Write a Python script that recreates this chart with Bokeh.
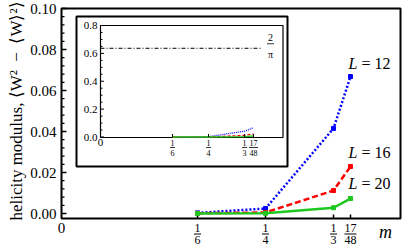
import numpy as np
from bokeh.plotting import figure
from bokeh.models import Range1d
from bokeh.core.properties import value
from bokeh.embed import file_html
from bokeh.resources import INLINE

# ---------------- data ----------------
m_vals = [1/6, 1/4, 1/3, 17/48]
hm_L12 = [0.0003, 0.0024, 0.0415, 0.0668]
hm_L16 = [0.0001, 0.0005, 0.0112, 0.0229]
hm_L20 = [0.0000, 0.0001, 0.0028, 0.0073]
series_L = ["12", "16", "20"]
frac_num = ["1", "1", "1", "17"]
frac_den = ["6", "4", "3", "48"]
y_ticks = [0.00, 0.02, 0.04, 0.06, 0.08, 0.10]
y_tick_labels = ["0.00", "0.02", "0.04", "0.06", "0.08", "0.10"]
y_minor = [0.004, 0.008, 0.012, 0.016, 0.024, 0.028, 0.032, 0.036, 0.044, 0.048, 0.052, 0.056,
           0.064, 0.068, 0.072, 0.076, 0.084, 0.088, 0.092, 0.096]
inset_y_ticks = [0.0, 0.2, 0.4, 0.6, 0.8]
inset_y_labels = ["0.0", "0.2", "0.4", "0.6", "0.8"]
inset_y_minor = [0.05, 0.1, 0.15, 0.25, 0.3, 0.35, 0.45, 0.5, 0.55, 0.65, 0.7, 0.75]
limit_value = 2 / np.pi
y_title = "helicity modulus, \u27e8W\u00b2\u2002\u2212\u2002\u27e8W\u27e9\u00b2\u27e9"

# ---------------- layout (pixel placement helpers) ----------------
SERIF = value("Liberation Serif")
BLUE, RED, GREEN = "#0000ff", "#ff0000", "#1ec81e"
W, H = 409, 247
MX0, MXS = 61, 816.0       # pixel of m=0, pixels per unit m
MY0, MYS = 213, 2050.0     # pixel of value 0, pixels per unit
def X(px):
    return (px - MX0) / MXS
def Y(py):
    return (MY0 - py) / MYS

IX0, ISX = 100, 181.5 / 0.42   # inset: pixel of m=0, pixels per unit
IY0, ISY = 136.5, 111.5 / 0.8  # inset: pixel of value 0, pixels per unit
def IX(px):
    return (px - IX0) / ISX
def IY(py):
    return (IY0 - py) / ISY

p = figure(width=W, height=H, output_backend="svg", toolbar_location=None,
           x_range=Range1d(X(0), X(W)), y_range=Range1d(Y(H), Y(0)),
           x_axis_location=None, y_axis_location=None, min_border=0)
p.extra_x_ranges = {"ix": Range1d(IX(0), IX(W))}
p.extra_y_ranges = {"iy": Range1d(IY(H), IY(0))}
p.outline_line_color = None
p.grid.visible = False
p.background_fill_color = "white"
p.border_fill_color = "white"

# ---- inset background box and main frame ----
p.quad(left=[X(76)], right=[X(287)], top=[Y(16)], bottom=[Y(166)],
       fill_color="white", line_color="black", line_width=2)
p.quad(left=[X(61)], right=[X(400)], top=[Y(8)], bottom=[Y(218)],
       fill_alpha=0, line_color="black", line_width=2)
p.quad(left=[X(IX0)], right=[X(282.5)], top=[Y(25)], bottom=[Y(137)],
       fill_alpha=0, line_color="black", line_width=1.2)

# ---- main axes: ticks and labels ----
p.ray(x=[X(61)] * len(y_ticks), y=y_ticks, length=5, length_units="screen", angle=0,
      line_color="black", line_width=1.5)
p.ray(x=[X(61)] * len(y_minor), y=y_minor, length=3, length_units="screen", angle=0,
      line_color="black", line_width=1.2)
p.ray(x=m_vals, y=[Y(218)] * len(m_vals), length=4, length_units="screen", angle=np.pi / 2,
      line_color="black", line_width=1.5)
p.text(x=[X(56)] * len(y_ticks), y=y_ticks, text=y_tick_labels, text_align="right",
       text_baseline="middle", text_font=SERIF, text_font_size="15px", text_color="black")
p.text(x=[0], y=[Y(227)], text=["0"], text_align="center", text_baseline="middle",
       text_font=SERIF, text_font_size="15px", text_color="black")
p.text(x=m_vals, y=[Y(227)] * len(m_vals), text=frac_num, text_align="center", text_baseline="middle",
       text_font=SERIF, text_font_size="12px", text_color="black")
p.text(x=m_vals, y=[Y(239.5)] * len(m_vals), text=frac_den, text_align="center", text_baseline="middle",
       text_font=SERIF, text_font_size="12px", text_color="black")
bar_hw = [3.5 if len(d) == 1 else 6 for d in frac_den]
p.segment(x0=[t - h / MXS for t, h in zip(m_vals, bar_hw)], x1=[t + h / MXS for t, h in zip(m_vals, bar_hw)],
          y0=[Y(233.5)] * len(m_vals), y1=[Y(233.5)] * len(m_vals), line_color="black", line_width=1)
p.text(x=[X(385)], y=[Y(231)], text=["m"], text_align="center", text_baseline="middle",
       text_font=SERIF, text_font_size="18px", text_font_style="italic", text_color="black")
p.text(x=[X(16)], y=[Y(110.5)], text=[y_title], angle=np.pi / 2, text_align="center",
       text_baseline="middle", text_font=SERIF, text_font_size="17px", text_color="black")

# ---- series labels ----
label_py = [63, 152, 183]
p.text(x=[X(357)] * 3, y=[Y(py) for py in label_py], text=["L"] * 3, text_align="right",
       text_baseline="middle", text_font=SERIF, text_font_size="16px", text_font_style="italic",
       text_color="black")
p.text(x=[X(361)] * 3, y=[Y(py) for py in label_py], text=["= " + s for s in series_L], text_align="left",
       text_baseline="middle", text_font=SERIF, text_font_size="16px", text_color="black")

# ---- data lines (main + inset) ----
styles = [(hm_L12, BLUE, "2 2", "1 1"), (hm_L16, RED, "6 3", "3 2"), (hm_L20, GREEN, "solid", "solid")]
for vals, col, dash, idash in styles:
    p.line(m_vals, vals, line_color=col, line_width=2.5, line_dash=dash)
    p.scatter(m_vals, vals, marker="square", size=4, color=col)
    p.line(m_vals, vals, line_color=col, line_width=1.3, line_dash=idash,
           x_range_name="ix", y_range_name="iy")

# ---- inset axes ----
ik = dict(x_range_name="ix", y_range_name="iy")
p.ray(x=[0] * len(inset_y_ticks), y=inset_y_ticks, length=3.5, length_units="screen", angle=0,
      line_color="black", line_width=1, **ik)
p.ray(x=[0] * len(inset_y_minor), y=inset_y_minor, length=2, length_units="screen", angle=0,
      line_color="black", line_width=1, **ik)
p.ray(x=m_vals, y=[0] * len(m_vals), length=3, length_units="screen", angle=np.pi / 2,
      line_color="black", line_width=1, **ik)
p.text(x=[IX(97)] * len(inset_y_ticks), y=inset_y_ticks, text=inset_y_labels, text_align="right",
       text_baseline="middle", text_font=SERIF, text_font_size="11px", text_color="black", **ik)
p.text(x=[0], y=[IY(142)], text=["0"], text_align="center", text_baseline="middle",
       text_font=SERIF, text_font_size="11px", text_color="black", **ik)
p.text(x=m_vals, y=[IY(142)] * len(m_vals), text=frac_num, text_align="center", text_baseline="middle",
       text_font=SERIF, text_font_size="8px", text_color="black", **ik)
p.text(x=m_vals, y=[IY(152.5)] * len(m_vals), text=frac_den, text_align="center", text_baseline="middle",
       text_font=SERIF, text_font_size="8px", text_color="black", **ik)
ibar_hw = [2.5 if len(d) == 1 else 4.5 for d in frac_den]
p.segment(x0=[t - h / ISX for t, h in zip(m_vals, ibar_hw)], x1=[t + h / ISX for t, h in zip(m_vals, ibar_hw)],
          y0=[IY(147)] * len(m_vals), y1=[IY(147)] * len(m_vals), line_color="black", line_width=0.8, **ik)

# ---- 2/pi reference line in inset ----
p.line(x=[0, IX(262)], y=[limit_value, limit_value], line_dash="4 2 1 2", line_width=1,
       line_color="black", **ik)
p.text(x=[IX(270)], y=[limit_value + 10.5 / ISY], text=["2"], text_align="center", text_baseline="middle",
       text_font=SERIF, text_font_size="10px", text_color="black", **ik)
p.text(x=[IX(270)], y=[limit_value - 6 / ISY], text=["\u03c0"], text_align="center", text_baseline="middle",
       text_font=SERIF, text_font_size="10px", text_color="black", **ik)
p.segment(x0=[IX(266.5)], x1=[IX(273.5)], y0=[limit_value + 4.5 / ISY], y1=[limit_value + 4.5 / ISY],
          line_color="black", line_width=0.8, **ik)

open("out.html", "w").write(file_html(p, INLINE))
